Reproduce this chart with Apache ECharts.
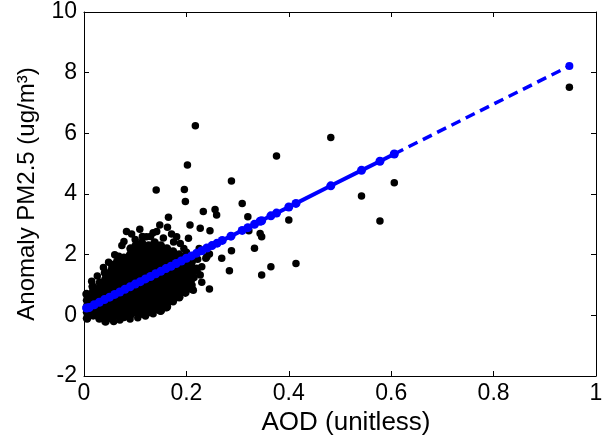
<!DOCTYPE html>
<html><head><meta charset="utf-8">
<script src="https://cdn.jsdelivr.net/npm/echarts@6/dist/echarts.min.js"></script>
<style>html,body{margin:0;padding:0;background:#fff}#c{width:607px;height:441px}</style>
</head><body><div id="c"></div>
<script>
// Axis definitions
const xRange = [0, 1, 0.2];
const yRange = [-2, 10, 2];
const xTitle = 'AOD (unitless)';
const yTitle = 'Anomaly PM2.5 (ug/m\u00B3)';

// Dense cluster of observations [AOD, PM2.5 anomaly]
const clusterPoints = [
[0.006,-0.1],[0.006,0.1],[0.006,0.3],[0.006,0.5],[0.005,0.7],
[0.018,0],[0.018,0.2],[0.018,0.4],[0.018,0.6],[0.018,0.8],[0.017,0.95],
[0.03,-0.1],[0.03,0.1],[0.03,0.3],[0.03,0.5],[0.03,0.7],[0.03,0.9],[0.031,1.08],
[0.042,-0.2],[0.042,0],[0.042,0.2],[0.042,0.4],[0.042,0.6],[0.042,0.8],[0.042,1.0],[0.042,1.2],[0.041,1.4],
[0.054,-0.1],[0.054,0.1],[0.054,0.3],[0.054,0.5],[0.054,0.7],[0.054,0.9],[0.054,1.1],[0.054,1.3],[0.054,1.5],[0.055,1.66],
[0.066,0],[0.066,0.2],[0.066,0.4],[0.066,0.6],[0.066,0.8],[0.066,1.0],[0.066,1.2],[0.066,1.4],[0.066,1.6],[0.065,1.78],
[0.078,-0.05],[0.078,0.1],[0.078,0.3],[0.078,0.5],[0.078,0.7],[0.078,0.9],[0.078,1.1],[0.078,1.3],[0.078,1.5],[0.078,1.7],[0.078,1.9],
[0.09,0],[0.09,0.2],[0.09,0.4],[0.09,0.6],[0.09,0.8],[0.09,1.0],[0.09,1.2],[0.09,1.4],[0.09,1.6],[0.09,1.8],[0.09,2.0],[0.091,2.2],
[0.102,0.1],[0.102,0.3],[0.102,0.5],[0.102,0.7],[0.102,0.9],[0.102,1.1],[0.102,1.3],[0.102,1.5],[0.102,1.7],[0.102,1.9],[0.102,2.1],[0.101,2.3],
[0.114,0.05],[0.114,0.2],[0.114,0.4],[0.114,0.6],[0.114,0.8],[0.114,1.0],[0.114,1.2],[0.114,1.4],[0.114,1.6],[0.114,1.8],[0.114,2.0],[0.114,2.2],[0.113,2.4],
[0.126,0.1],[0.126,0.3],[0.126,0.5],[0.126,0.7],[0.126,0.9],[0.126,1.1],[0.126,1.3],[0.126,1.5],[0.126,1.7],[0.126,1.9],[0.126,2.1],[0.126,2.3],
[0.138,0.2],[0.138,0.4],[0.138,0.6],[0.138,0.8],[0.138,1.0],[0.138,1.2],[0.138,1.4],[0.138,1.6],[0.138,1.8],[0.138,2.0],[0.138,2.2],[0.138,2.4],
[0.15,0.15],[0.15,0.3],[0.15,0.5],[0.15,0.7],[0.15,0.9],[0.15,1.1],[0.15,1.3],[0.15,1.5],[0.15,1.7],[0.15,1.9],[0.15,2.1],[0.15,2.3],
[0.162,0.28],[0.162,0.4],[0.162,0.6],[0.162,0.8],[0.162,1.0],[0.162,1.2],[0.162,1.4],[0.162,1.6],[0.162,1.8],[0.162,2.0],[0.162,2.2],
[0.174,0.5],[0.174,0.7],[0.174,0.9],[0.174,1.1],[0.174,1.3],[0.174,1.5],[0.174,1.7],[0.174,1.9],[0.174,2.1],
[0.186,0.6],[0.186,0.8],[0.186,1.0],[0.186,1.2],[0.186,1.4],[0.186,1.6],[0.186,1.8],[0.186,2.0],
[0.198,0.75],[0.198,0.9],[0.198,1.1],[0.198,1.3],[0.198,1.5],[0.198,1.7],[0.198,1.9],
[0.21,0.88],[0.21,1.0],[0.21,1.2],[0.21,1.4],[0.21,1.6],[0.21,1.75]
];

// Scattered points around the cluster edges
const edgePoints = [
[0.083,2.76],[0.093,2.68],[0.109,2.84],[0.114,2.6],[0.122,2.59],[0.135,2.72],[0.142,2.76],[0.148,2.98],
[0.163,2.9],[0.165,3.23],[0.171,2.68],[0.181,2.59],[0.175,2.42],[0.188,2.37],[0.204,2.54],[0.207,2.98],
[0.227,2.87],[0.246,2.79],[0.074,2.3],[0.078,2.43],[0.06,2.0],[0.048,1.75],[0.038,1.58],[0.026,1.3],
[0.015,1.12],[0.155,2.55],[0.13,2.6],[0.1,2.5],[0.195,2.2],[0.2,2.08],[0.215,1.95],[0.222,1.85],[0.068,1.95],
[0.22,1.55],[0.23,1.6],[0.221,1.45],[0.227,1.33],[0.207,1.05],[0.23,1.09],[0.2135,0.83],[0.194,0.78],
[0.181,0.67],[0.174,0.45],[0.155,0.54],[0.16,0.25],[0.148,0.15],[0.135,0.05],[0.12,-0.02],[0.105,-0.08],
[0.09,-0.12],[0.07,-0.15],[0.058,-0.2],[0.245,0.87],[0.238,1.88],[0.245,2.02],[0.207,1.93],[0.24,1.93],
[0.215,1.25],[0.225,2.2]
];

// Isolated outliers
const outlierPoints = [
[0.2175,6.25],[0.202,4.96],[0.141,4.13],[0.196,4.15],[0.198,3.75],[0.288,4.43],[0.376,5.25],[0.482,5.86],
[0.233,3.42],[0.256,3.49],[0.259,3.31],[0.309,3.69],[0.32,3.25],[0.40,3.14],[0.344,2.70],[0.347,2.59],
[0.322,2.79],[0.333,2.21],[0.288,2.13],[0.269,1.88],[0.284,1.47],[0.365,1.60],[0.347,1.33],[0.414,1.71],
[0.606,4.37],[0.542,3.93],[0.578,3.11],[0.948,7.52]
];

// Fitted regression values (blue)
const fitAod = [0.005,0.01,0.02,0.03,0.04,0.05,0.06,0.07,0.08,0.09,0.10,0.11,0.12,0.13,0.14,0.15,0.16,0.17,0.18,0.19,0.20,0.21,0.22,0.23,0.24,0.25,0.26,0.27,0.287,0.309,0.32,0.333,0.344,0.347,0.365,0.376,0.40,0.414,0.482,0.542,0.578,0.606];
const fitPm  = [0.24,0.26,0.35,0.43,0.52,0.60,0.69,0.77,0.86,0.94,1.03,1.11,1.20,1.28,1.37,1.45,1.54,1.62,1.71,1.79,1.88,1.96,2.05,2.13,2.22,2.30,2.38,2.47,2.61,2.80,2.89,3.00,3.10,3.12,3.28,3.37,3.57,3.69,4.27,4.78,5.08,5.32];
// Extrapolated (dashed) segment
const extAod = [0.606, 0.948];
const extPm  = [5.32, 8.22];

const FONT = "'Liberation Sans', Arial, sans-serif";
const chart = echarts.init(document.getElementById('c'), null, {renderer: 'canvas'});

const axisCommon = {
  axisLine: {show: true, onZero: false, lineStyle: {color: '#000', width: 1}},
  axisTick: {show: true, inside: true, length: 5, lineStyle: {color: '#000', width: 1}},
  splitLine: {show: false}
};

chart.setOption({
  animation: false,
  backgroundColor: '#fff',
  grid: {left: 84, right: 11, top: 12, bottom: 65, containLabel: false},
  xAxis: [
    Object.assign({
      type: 'value', min: xRange[0], max: xRange[1], interval: xRange[2], position: 'bottom',
      name: xTitle, nameLocation: 'middle', nameGap: 33,
      nameTextStyle: {fontFamily: FONT, fontSize: 26, color: '#000', padding: [0, 0, 0, 12]},
      axisLabel: {show: true, margin: 6, fontFamily: FONT, fontSize: 23, color: '#000'}
    }, axisCommon),
    Object.assign({
      type: 'value', min: xRange[0], max: xRange[1], interval: xRange[2], position: 'top',
      axisLabel: {show: false}
    }, axisCommon)
  ],
  yAxis: [
    Object.assign({
      type: 'value', min: yRange[0], max: yRange[1], interval: yRange[2], position: 'left',
      name: yTitle, nameLocation: 'middle', nameGap: 45,
      nameTextStyle: {fontFamily: FONT, fontSize: 24, color: '#000'},
      axisLabel: {show: true, margin: 7, fontFamily: FONT, fontSize: 23, color: '#000'}
    }, axisCommon),
    Object.assign({
      type: 'value', min: yRange[0], max: yRange[1], interval: yRange[2], position: 'right',
      axisLabel: {show: false}
    }, axisCommon)
  ],
  series: [
    {
      type: 'scatter', xAxisIndex: 0, yAxisIndex: 0,
      data: clusterPoints,
      symbol: 'circle', symbolSize: 8.6,
      itemStyle: {color: '#000', opacity: 1, borderWidth: 0}, z: 2
    },
    {
      type: 'scatter', xAxisIndex: 0, yAxisIndex: 0,
      data: edgePoints.concat(outlierPoints),
      symbol: 'circle', symbolSize: 7.5,
      itemStyle: {color: '#000', opacity: 1, borderWidth: 0}, z: 2
    },
    {
      type: 'line', xAxisIndex: 0, yAxisIndex: 0,
      data: fitAod.map((a, i) => [a, fitPm[i]]),
      symbol: 'circle', symbolSize: 9, showSymbol: true, showAllSymbol: true,
      itemStyle: {color: '#0000ff', opacity: 1, borderWidth: 0}, lineStyle: {color: '#0000ff', width: 4}, z: 3
    },
    {
      type: 'line', xAxisIndex: 0, yAxisIndex: 0,
      data: extAod.map((a, i) => [a, extPm[i]]),
      symbol: 'circle', symbolSize: 8, showSymbol: true, showAllSymbol: true,
      itemStyle: {color: '#0000ff', opacity: 1, borderWidth: 0}, lineStyle: {color: '#0000ff', width: 3.5, type: [10, 6]}, z: 3
    }
  ]
});
</script>
</body></html>
